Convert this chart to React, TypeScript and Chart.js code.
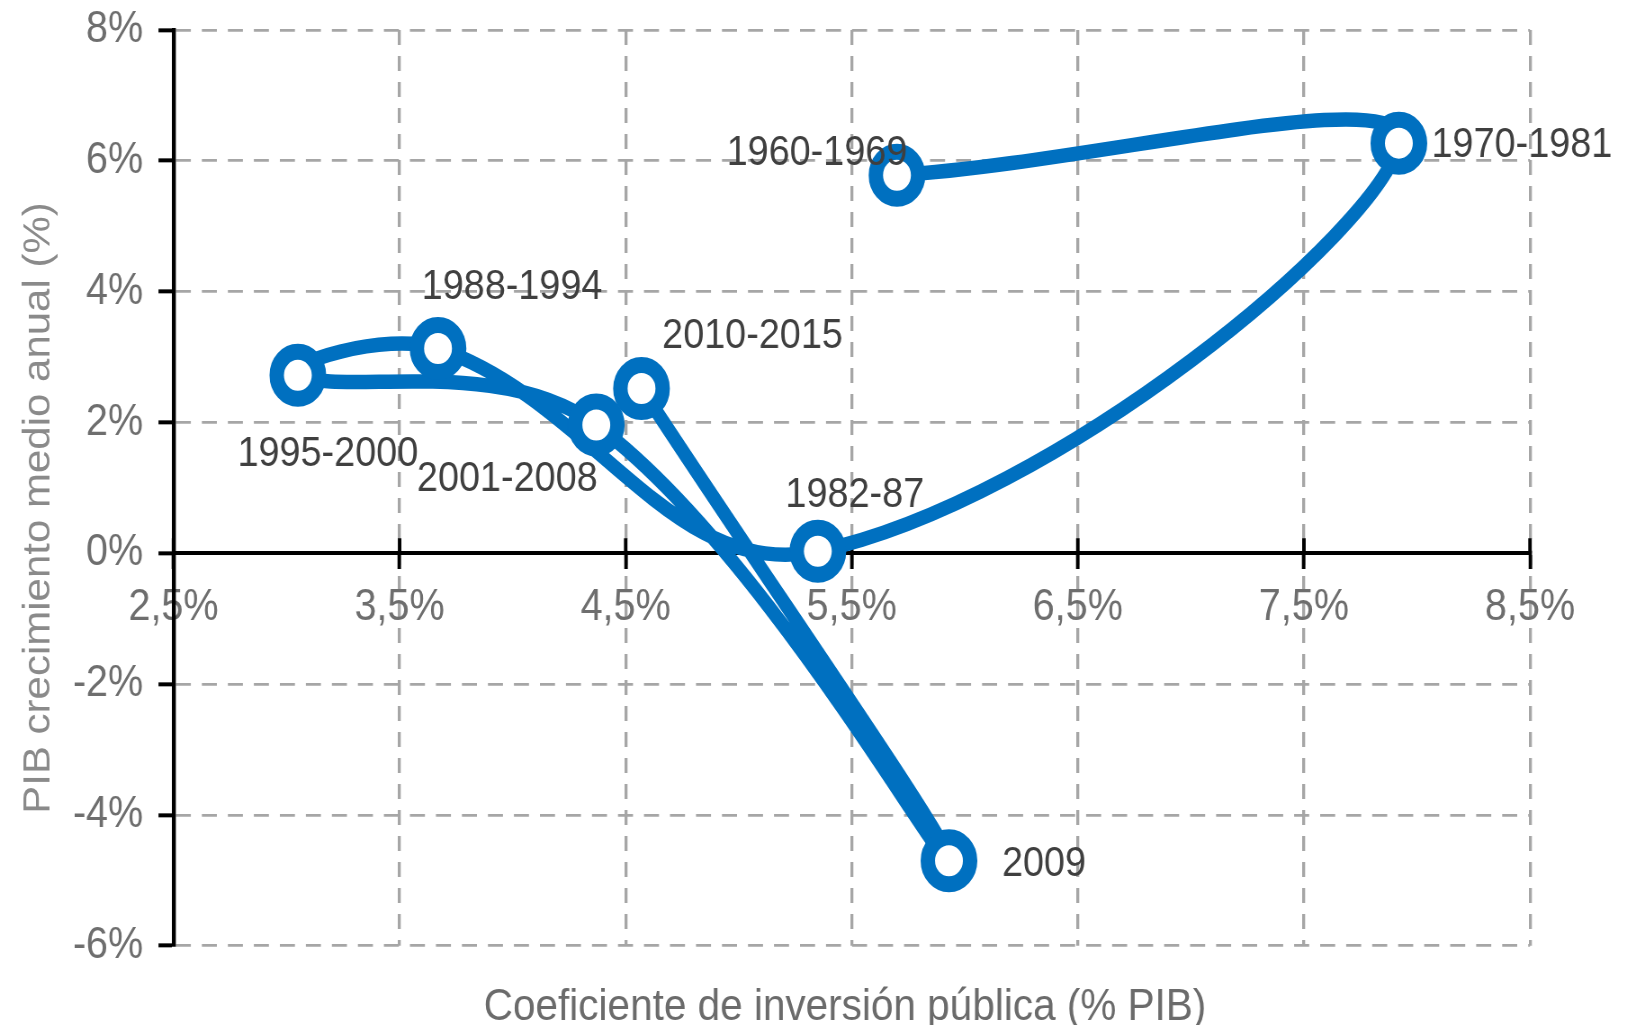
import React, { useEffect, useRef } from "react";
import { Chart, registerables } from "chart.js";

Chart.register(...registerables);

// ---------- data ----------
const periods = ["1960-1969", "1970-1981", "1982-87", "1988-1994", "1995-2000", "2001-2008", "2009", "2010-2015"];
const investment = [5.7, 7.92, 5.35, 3.67, 3.05, 4.37, 5.93, 4.57]; // % PIB
const growth = [5.78, 6.27, 0.03, 3.13, 2.72, 1.96, -4.7, 2.52]; // %
const xTickValues = [2.5, 3.5, 4.5, 5.5, 6.5, 7.5, 8.5];
const yTickValues = [-6, -4, -2, 0, 2, 4, 6, 8];
const xAxisTitle = "Coeficiente de inversión pública (% PIB)";
const yAxisTitle = "PIB crecimiento medio anual (%)";

// ---------- style / layout ----------
const W = 1627;
const H = 1025;
const INNER_W = 1808;
const SQ = W / INNER_W; // horizontal squeeze of the original picture
const FONT = "'Liberation Sans', Arial, sans-serif";
const LINE_BLUE = "#0070C0";
const GRID = "#a6a6a6";
const TICK_TEXT = "#6e6e6e";
const LABEL_TEXT = "#3f3f3f";
// label offsets from point centre (screen px)
const labelOffsets = [
  [-80, -25],
  [123, -1],
  [37, -59],
  [74, -65],
  [30, 76],
  [-89, 51],
  [95, 0],
  [111, -55],
];

const decorPlugin = {
  id: "decor",
  beforeDatasetsDraw(chart: any) {
    const { ctx, scales } = chart;
    const y0 = scales.y.getPixelForValue(0);
    ctx.save();
    ctx.strokeStyle = "#000";
    ctx.lineWidth = 3.9;
    xTickValues.forEach((v) => {
      const px = scales.x.getPixelForValue(v);
      ctx.beginPath();
      ctx.moveTo(px, y0 - 15);
      ctx.lineTo(px, y0);
      ctx.stroke();
    });
    ctx.restore();
  },
  afterDatasetsDraw(chart: any) {
    const { ctx } = chart;
    const meta = chart.getDatasetMeta(0);
    const size = 42;
    ctx.save();
    ctx.font = `${size}px ${FONT}`;
    ctx.fillStyle = LABEL_TEXT;
    ctx.textAlign = "center";
    ctx.textBaseline = "alphabetic";
    meta.data.forEach((pt: any, i: number) => {
      const [dx, dy] = labelOffsets[i];
      ctx.fillText(periods[i], pt.x + dx / SQ, pt.y + dy + 0.358 * size);
    });
    ctx.restore();
  },
  afterDraw(chart: any) {
    const { ctx } = chart;
    ctx.save();
    ctx.textAlign = "center";
    ctx.textBaseline = "alphabetic";
    ctx.font = `45px ${FONT}`;
    ctx.fillStyle = "#6b6b6b";
    ctx.fillText(xAxisTitle, 845 / SQ, 1020);
    ctx.font = `42px ${FONT}`;
    ctx.fillStyle = "#8a8a8a";
    ctx.translate(36 / SQ + 0.358 * 42, 508);
    ctx.rotate(-Math.PI / 2);
    ctx.fillText(yAxisTitle, 0, 0);
    ctx.restore();
  },
};

export default function App() {
  const ref = useRef<HTMLCanvasElement | null>(null);

  useEffect(() => {
    if (!ref.current) return;
    const points = investment.map((x, i) => ({ x, y: growth[i] }));
    const chart = new Chart(ref.current, {
      type: "scatter",
      data: {
        datasets: [
          {
            data: points,
            showLine: true,
            tension: 0.4,
            borderColor: LINE_BLUE,
            borderWidth: 14.5,
            pointRadius: 23.5,
            pointBorderWidth: 16,
            pointBorderColor: LINE_BLUE,
            pointBackgroundColor: "#ffffff",
            borderCapStyle: "round",
            borderJoinStyle: "round",
            clip: false,
          } as any,
        ],
      },
      options: {
        animation: false,
        responsive: false,
        devicePixelRatio: 1,
        layout: {
          autoPadding: false,
          padding: { left: 0, top: 30, right: INNER_W - 1530 / SQ, bottom: H - 945.7 },
        },
        plugins: {
          legend: { display: false },
          tooltip: { enabled: false },
          title: { display: false },
        },
        scales: {
          x: {
            type: "linear",
            min: 2.5,
            max: 8.5,
            position: { y: 0 } as any,
            afterBuildTicks: (s: any) => {
              s.ticks = xTickValues.map((v) => ({ value: v }));
            },
            afterFit: (s: any) => {
              s.paddingLeft = 0;
              s.paddingRight = 0;
            },
            ticks: {
              autoSkip: false,
              maxRotation: 0,
              minRotation: 0,
              padding: 14,
              color: TICK_TEXT,
              font: { family: FONT, size: 44 },
              callback: (v: any) => String(v).replace(".", ",") + "%",
            },
            grid: {
              color: (c: any) => (c.tick && c.tick.value === 2.5 ? "rgba(0,0,0,0)" : GRID),
              lineWidth: 3.3,
              tickColor: "#000",
              tickWidth: 3.9,
              tickLength: 14,
            },
            border: { display: true, color: "#000", width: 4, dash: [15, 11] },
          },
          y: {
            type: "linear",
            min: -6,
            max: 8,
            afterBuildTicks: (s: any) => {
              s.ticks = yTickValues.map((v) => ({ value: v }));
            },
            afterFit: (s: any) => {
              s.width = 173.5 / SQ;
              s.paddingTop = 0;
              s.paddingBottom = 0;
            },
            ticks: {
              padding: 17,
              color: TICK_TEXT,
              font: { family: FONT, size: 44, lineHeight: 0.3 },
              callback: (v: any) => v + "%",
            },
            grid: {
              color: (c: any) => (c.tick && c.tick.value === 0 ? "rgba(0,0,0,0)" : GRID),
              lineWidth: 2.7,
              tickColor: "#000",
              tickWidth: 4,
              tickLength: 15 / SQ,
            },
            border: { display: true, color: "#000", width: 4.4, dash: [16.7, 12.2] },
          },
        },
      } as any,
      plugins: [decorPlugin],
    });
    return () => chart.destroy();
  }, []);

  return (
    <div
      style={{
        position: "fixed",
        left: 0,
        top: 0,
        width: W,
        height: H,
        overflow: "hidden",
        background: "#ffffff",
      }}
    >
      <div
        style={{
          width: INNER_W,
          height: H,
          transform: `scaleX(${SQ})`,
          transformOrigin: "0 0",
        }}
      >
        <canvas ref={ref} width={INNER_W} height={H} style={{ display: "block" }} />
      </div>
    </div>
  );
}
